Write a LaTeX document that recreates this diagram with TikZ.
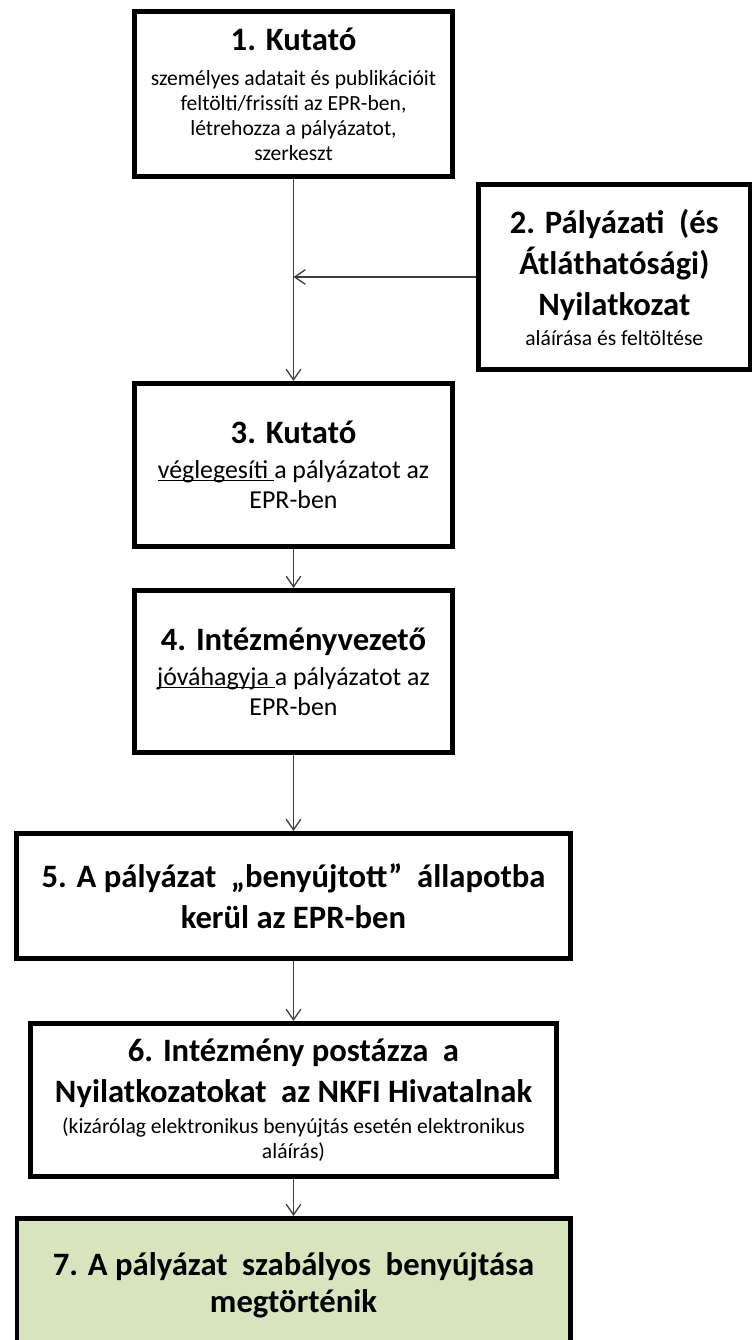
\documentclass[tikz,border=0pt]{standalone}
\usepackage{fontspec}
\setmainfont{Carlito}
\usepackage{tikz}
\usetikzlibrary{arrows.meta,positioning}
\definecolor{stepGreen}{HTML}{D7E4BD}
\definecolor{connGray}{HTML}{404040}
\newcommand{\hdfont}{\bfseries\fontsize{24.5}{30.75}\selectfont}
\newcommand{\bdfont}{\mdseries\fontsize{19.4}{22.5}\selectfont}
\newcommand{\smfont}{\mdseries\fontsize{16.2}{18.75}\selectfont}
\newcommand{\wsp}{\hspace{.22em}}
\newcommand{\undr}[1]{{\setbox0\hbox{#1}\rlap{\rule[-2pt]{\wd0}{.8pt}}\box0}}

\begin{document}
\begin{tikzpicture}[x=0.75pt,y=-0.75pt,
  box/.style={draw,line width=3.5pt,align=center,inner sep=0pt,minimum width=238.7pt},
  conn/.style={draw=connGray,line width=1pt,-{Straight Barb[length=8pt,width=11pt]}}]
  \useasboundingbox (0,0) rectangle (752,1340);
  \node[box,minimum height=124pt,font=\smfont] (b1) at (293.5,94)
    {{\hdfont 1. Kutató}\\[7.5pt] személyes adatait és publikációit\\ feltölti/frissíti az EPR-ben,\\ létrehozza a pályázatot,\\ szerkeszt};
  \node[box,minimum width=204pt,minimum height=139pt,font=\hdfont,below right=2.25pt and 15.75pt of b1.south east] (b2)
    {2. Pályázati \wsp(és\\ Átláthatósági)\\ Nyilatkozat\\[-8.25pt] {\smfont aláírása és feltöltése}};
  \node[box,minimum height=122.5pt,font=\bdfont,below=151.5pt of b1] (b3)
    {{\hdfont 3. Kutató}\\[3.75pt] \undr{véglegesíti }a pályázatot az\\ EPR-ben};
  \node[box,minimum height=121.75pt,font=\bdfont,below=29.25pt of b3] (b4)
    {{\hdfont 4. Intézményvezető}\\[3.75pt] \undr{jóváhagyja }a pályázatot az\\ EPR-ben};
  \node[box,minimum width=415.7pt,minimum height=94pt,font=\hdfont,below=57pt of b4] (b5)
    {5. A pályázat \wsp„benyújtott” \wsp állapotba\\ kerül az EPR-ben};
  \node[box,minimum width=394.7pt,minimum height=115pt,font=\hdfont,below=45pt of b5] (b6)
    {6. Intézmény postázza \wsp a\\ Nyilatkozatokat \wsp az NKFI Hivatalnak\\[-7.5pt]
     {\smfont (kizárólag elektronikus benyújtás esetén elektronikus}\\[-12pt] {\smfont aláírás)}};
  \node[box,fill=stepGreen,minimum width=415pt,minimum height=100pt,font=\hdfont,below=27.75pt of b6] (b7)
    {7. A pályázat \wsp szabályos \wsp benyújtása\\[-3pt] megtörténik};
  \coordinate (jn) at (b1.south |- b2.west);
  \draw[conn] (b1.south) -- (b3.north);
  \draw[conn] (b2.west) -- (jn);
  \draw[conn] (b3.south) -- (b4.north);
  \draw[conn] (b4.south) -- (b5.north);
  \draw[conn] (b5.south) -- (b6.north);
  \draw[conn] (b6.south) -- (b7.north);
\end{tikzpicture}
\end{document}
